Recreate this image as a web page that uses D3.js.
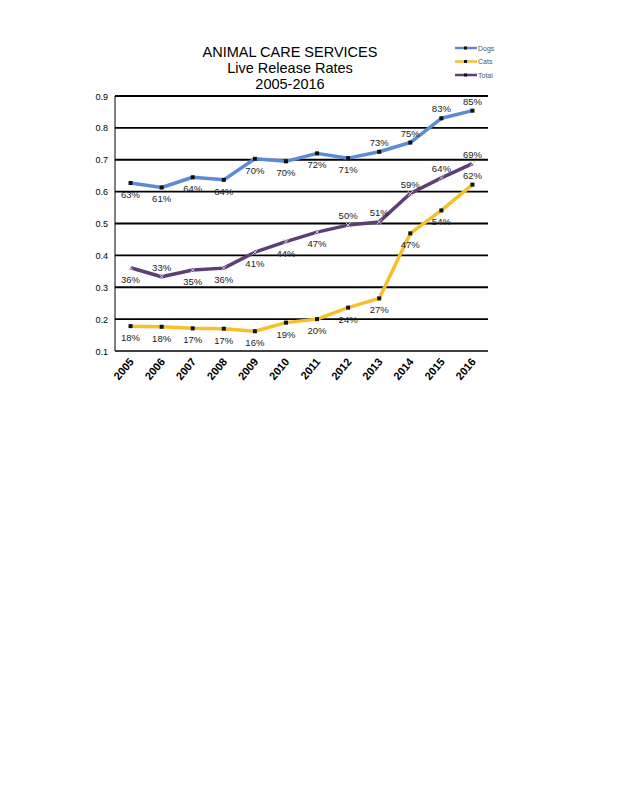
<!DOCTYPE html><html><head><script src="https://d3js.org/d3.v7.min.js"></script>
<style>body{margin:0;background:#fff}</style></head><body><svg id="c" width="620" height="803"></svg>
<script>
const years=["2005","2006","2007","2008","2009","2010","2011","2012","2013","2014","2015","2016"];
const dogs=[0.627,0.613,0.645,0.637,0.703,0.695,0.72,0.705,0.725,0.754,0.83,0.854];
const cats=[0.178,0.176,0.171,0.170,0.162,0.189,0.2,0.236,0.265,0.469,0.541,0.622];
const total=[0.361,0.333,0.354,0.360,0.410,0.443,0.473,0.495,0.505,0.594,0.643,0.688];
const dogsLbl=["63%","61%","64%","64%","70%","70%","72%","71%","73%","75%","83%","85%"];
const catsLbl=["18%","18%","17%","17%","16%","19%","20%","24%","27%","47%","54%","62%"];
const totalLbl=["36%","33%","35%","36%","41%","44%","47%","50%","51%","59%","64%","69%"];
const dogsPos=["b","b","b","b","b","b","b","b","a","a","a","a"];
const catsPos=["b","b","b","b","b","b","b","b","b","b","b","a"];
const totalPos=["b","a","b","b","b","b","b","a","a","a","a","a"];
const yTicks=[0.1,0.2,0.3,0.4,0.5,0.6,0.7,0.8,0.9];
const svg=d3.select("#c");
const x=d3.scalePoint().domain(years).range([115,488]).padding(0.5);
const y=d3.scaleLinear().domain([0.1,0.9]).range([351,96]);
const g=svg.append("g");
g.selectAll("line.grid").data(yTicks).join("line").attr("x1",115).attr("x2",488)
 .attr("y1",d=>y(d)).attr("y2",d=>y(d)).attr("stroke","#000").attr("stroke-width",d=>d==0.1?1.5:1.8);
g.append("line").attr("x1",115).attr("x2",115).attr("y1",96).attr("y2",351).attr("stroke","#000");
g.selectAll("text.yt").data(yTicks).join("text").attr("x",108).attr("y",d=>y(d)+3.5).attr("text-anchor","end")
 .attr("font-family","Liberation Sans, Arial").attr("font-size",9).text(d=>d.toFixed(1));
g.selectAll("text.xt").data(years).join("text").attr("font-family","Liberation Sans, Arial").attr("font-weight","bold")
 .attr("font-size",11).attr("text-anchor","end")
 .attr("transform",d=>`translate(${x(d)+4},${362}) rotate(-50)`).text(d=>d);
const series=[
 {v:dogs,l:dogsLbl,p:dogsPos,c:"#5b8bd6",m:"d"},
 {v:cats,l:catsLbl,p:catsPos,c:"#f5c02c",m:"s"},
 {v:total,l:totalLbl,p:totalPos,c:"#5d3f73",m:"x"}];
const line=d3.line().x((d,i)=>x(years[i])).y(d=>y(d));
series.forEach(s=>{
 g.append("path").attr("d",line(s.v)).attr("fill","none").attr("stroke",s.c).attr("stroke-width",3.5).attr("stroke-linejoin","round");
 s.v.forEach((v,i)=>{
  const cx=x(years[i]),cy=y(v);
  if(s.m=="x") g.append("path").attr("d",`M${cx-2.5},${cy-2.5}L${cx+2.5},${cy+2.5}M${cx-2.5},${cy+2.5}L${cx+2.5},${cy-2.5}`).attr("stroke","#cfc6e0").attr("stroke-width",1);
  else g.append("rect").attr("x",cx-2).attr("y",cy-2).attr("width",4).attr("height",4).attr("fill","#111");
  g.append("text").attr("x",cx).attr("y",s.p[i]=="a"?cy-6:cy+15).attr("text-anchor","middle")
   .attr("font-family","Liberation Sans, Arial").attr("font-size",9.5).attr("fill","#222").text(s.l[i]);
 });
});
["ANIMAL CARE SERVICES","Live Release Rates","2005-2016"].forEach((t,i)=>
 svg.append("text").attr("x",290).attr("y",57+i*16).attr("text-anchor","middle").attr("font-family","Liberation Sans, Arial").attr("font-size",14.5).text(t));
["Dogs","Cats","Total"].forEach((t,i)=>{
 const yy=48+i*13.5;
 svg.append("line").attr("x1",455).attr("x2",477).attr("y1",yy).attr("y2",yy).attr("stroke",series[i].c).attr("stroke-width",2.5);
 svg.append("rect").attr("x",464).attr("y",yy-1.5).attr("width",3).attr("height",3).attr("fill","#111");
 svg.append("text").attr("x",478).attr("y",yy+2.5).attr("font-family","Liberation Sans, Arial").attr("font-size",7).attr("fill","#555").text(t);
});
</script></body></html>
